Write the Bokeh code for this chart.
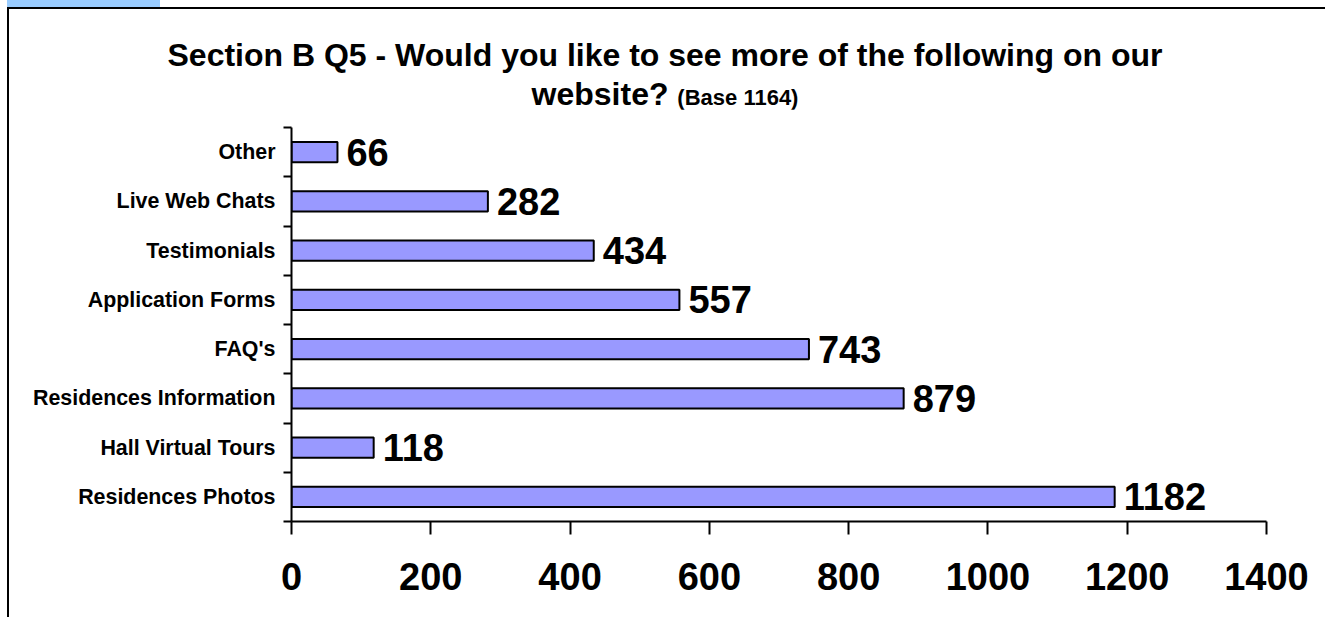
from bokeh.plotting import figure
from bokeh.models import Range1d, FixedTicker, Div, Column
from bokeh.embed import file_html
from bokeh.resources import INLINE
from bokeh.core.properties import value

# ---- data ----
categories = ["Residences Photos", "Hall Virtual Tours", "Residences Information",
              "FAQ's", "Application Forms", "Testimonials", "Live Web Chats", "Other"]
counts = [1182, 118, 879, 743, 557, 434, 282, 66]
x_ticks = [0, 200, 400, 600, 800, 1000, 1200, 1400]
title_line1 = "Section B Q5 - Would you like to see more of the following on our"
title_line2a = "website?"
title_line2b = "(Base 1164)"

FONT = "Liberation Sans"
n = len(categories)
centers = [i + 0.5 for i in range(n)]
bounds = list(range(n + 1))

OFF = 9                 # content origin (inside the chart border)
W_TOTAL, H_TOTAL = 1325, 617
CW = W_TOTAL - OFF      # content width
DIV_H = 100
FIG_H = H_TOTAL - OFF - DIV_H
FL, FR, FT, FB = 291, 1266, 127, 521   # frame edges on the page

title_html = f"""
<div style="position:relative;width:{CW}px;height:{DIV_H}px;font-family:'{FONT}',Arial,sans-serif;font-weight:bold;color:#000;">
  <div style="position:absolute;left:-2px;top:-9px;width:153px;height:7px;background:#99ccff;"></div>
  <div style="position:absolute;left:0;top:27px;width:1312px;text-align:center;font-size:32px;line-height:38.5px;white-space:nowrap;">
    {title_line1}<br>{title_line2a} <span style="font-size:22px;">{title_line2b}</span>
  </div>
</div>
"""
title_div = Div(text=title_html, width=CW, height=DIV_H, margin=0)

p = figure(width=CW, height=FIG_H, output_backend="svg", toolbar_location=None,
           x_range=Range1d(x_ticks[0], x_ticks[-1]), y_range=Range1d(0, n),
           min_border_left=FL - OFF, min_border_right=W_TOTAL - FR,
           min_border_top=FT - OFF - DIV_H, min_border_bottom=H_TOTAL - FB, margin=0)
p.outline_line_color = None
p.xgrid.visible = False
p.ygrid.visible = False
p.background_fill_color = "white"
p.border_fill_color = "white"

p.hbar(y=centers, left=0, right=counts, height=0.41,
       fill_color="#9999ff", line_color="black", line_width=2)

p.text(x=counts, y=centers, text=[str(c) for c in counts], x_offset=9,
       text_baseline="middle", text_align="left",
       text_font=value(FONT), text_font_style="bold", text_font_size="38px", text_color="black")

# x axis
xa = p.xaxis[0]
xa.ticker = FixedTicker(ticks=x_ticks)
xa.axis_line_width = 2
xa.axis_line_color = "black"
xa.major_tick_line_width = 2
xa.major_tick_out = 13
xa.major_tick_in = 0
xa.minor_tick_out = 0
xa.minor_tick_in = 0
xa.major_label_standoff = 28
xa.major_label_text_font = FONT
xa.major_label_text_font_style = "bold"
xa.major_label_text_font_size = "38px"
xa.major_label_text_color = "black"

# y axis
ya = p.yaxis[0]
ya.ticker = FixedTicker(ticks=centers, minor_ticks=bounds)
ya.major_label_overrides = {c: name for c, name in zip(centers, categories)}
ya.axis_line_width = 2
ya.axis_line_color = "black"
ya.major_tick_out = 0
ya.major_tick_in = 0
ya.minor_tick_out = 8
ya.minor_tick_in = 0
ya.minor_tick_line_width = 2
ya.minor_tick_line_color = "black"
ya.major_label_standoff = 8
ya.major_label_text_font = FONT
ya.major_label_text_font_style = "bold"
ya.major_label_text_font_size = "21.4px"
ya.major_label_text_color = "black"

layout = Column(title_div, p, spacing=0,
                styles={"margin-left": "7px", "margin-top": "7px",
                        "border-left": "2px solid black", "border-top": "2px solid black"})

open("out.html", "w").write(file_html(layout, INLINE))
